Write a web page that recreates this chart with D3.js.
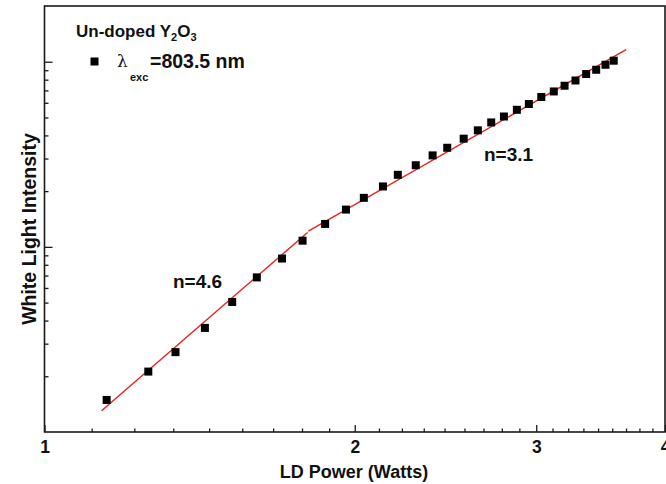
<!DOCTYPE html>
<html><head><meta charset="utf-8">
<script src="https://cdn.jsdelivr.net/npm/d3@7"></script>
<style>html,body{margin:0;padding:0;background:#fff;}svg{display:block;font-family:"Liberation Sans",Arial,sans-serif;}</style>
</head><body>
<svg id="c" width="666" height="484"></svg>
<script>
// Data
const ldPower = [1.149,1.261,1.340,1.431,1.521,1.607,1.700,1.780,1.872,1.961,2.041,2.130,2.202,2.292,2.380,2.459,2.551,2.633,2.713,2.791,2.873,2.951,3.034,3.120,3.196,3.275,3.354,3.430,3.502,3.567];
const intensity = [1.49,2.12,2.70,3.65,5.04,6.84,8.65,10.8,13.3,15.9,18.4,21.2,24.5,27.6,31.2,34.3,38.4,42.6,47.0,50.6,55.0,59.1,64.5,69.1,74.2,79.2,85.8,90.5,96.3,101.3];
// Fit lines (endpoints)
const fitLowX = [1.136, 1.800];
const fitLowY = [1.303, 11.95];
const fitHighX = [1.803, 3.667];
const fitHighY = [12.15, 116.1];
const xTickValues = [1,2,3,4];
const xTickLabels = ["1","2","3","4"];
const yMajorTicks = [10,100];

const svg = d3.select("#c");
const L = 44.5, R = 665, T = 6, B = 432;
const x = d3.scaleLog().domain([1,4]).range([L,R]);
const y = d3.scaleLog().domain([1,200]).range([B,T]);

// minor ticks
const xMinor = [];
for (let k=1;k<4;k++) for (let j=1;j<=8;j++) xMinor.push(k + j/9);
const yMinor = [];
[1,10].forEach(d=>{ for(let j=2;j<=9;j++) yMinor.push(d*j); });

const axisCol = "#1a1a1a";
// x axis
const gx = svg.append("g").attr("transform",`translate(0,${B})`)
  .call(d3.axisBottom(x).tickValues(xMinor).tickSize(-3.5).tickFormat(""));
const gxMaj = svg.append("g").attr("transform",`translate(0,${B})`)
  .call(d3.axisBottom(x).tickValues(xTickValues).tickSize(-7).tickFormat((d,i)=>xTickLabels[i]));
[gx,gxMaj].forEach(g=>{g.select(".domain").remove(); g.selectAll("line").attr("stroke",axisCol).attr("stroke-width",1.3);});
gxMaj.selectAll("text").attr("font-size",17.5).attr("font-weight","bold").attr("fill","#111").attr("dy",null).attr("y",21);

// y axis
const gy = svg.append("g").attr("transform",`translate(${L},0)`)
  .call(d3.axisLeft(y).tickValues(yMinor).tickSize(-4).tickFormat(""));
const gyMaj = svg.append("g").attr("transform",`translate(${L},0)`)
  .call(d3.axisLeft(y).tickValues(yMajorTicks).tickSize(-8).tickFormat(""));
[gy,gyMaj].forEach(g=>{g.select(".domain").remove(); g.selectAll("line").attr("stroke",axisCol).attr("stroke-width",1.3);});

// frame
svg.append("rect").attr("x",L).attr("y",T).attr("width",R-L).attr("height",B-T)
  .attr("fill","none").attr("stroke",axisCol).attr("stroke-width",1.6);

// fit lines
const line = d3.line().x(d=>x(d[0])).y(d=>y(d[1]));
svg.append("path").datum(fitLowX.map((v,i)=>[v,fitLowY[i]])).attr("d",line)
  .attr("stroke","#e8201a").attr("stroke-width",1.4).attr("fill","none");
svg.append("path").datum(fitHighX.map((v,i)=>[v,fitHighY[i]])).attr("d",line)
  .attr("stroke","#e8201a").attr("stroke-width",1.4).attr("fill","none");

// points
const s = 8;
svg.append("g").selectAll("rect").data(ldPower.map((v,i)=>[v,intensity[i]])).join("rect")
  .attr("x",d=>x(d[0])-s/2).attr("y",d=>y(d[1])-s/2).attr("width",s).attr("height",s).attr("fill","#000");

// legend / title
const t1 = svg.append("text").attr("x",76).attr("y",37).attr("font-size",17).attr("font-weight","bold").attr("fill","#111");
t1.append("tspan").text("Un-doped Y");
t1.append("tspan").text("2").attr("font-size",11).attr("dy",4);
t1.append("tspan").text("O").attr("dy",-4);
t1.append("tspan").text("3").attr("font-size",11).attr("dy",4);

svg.append("rect").attr("x",94.5-4).attr("y",61.5-4).attr("width",8).attr("height",8).attr("fill","#000");
svg.append("text").attr("x",117).attr("y",67).attr("font-size",17).attr("fill","#111")
  .attr("font-family","DejaVu Serif, serif").text("λ");
svg.append("text").attr("x",130).attr("y",81).attr("font-size",11).attr("font-weight","bold").attr("fill","#111").text("exc");
svg.append("text").attr("x",150).attr("y",67.5).attr("font-size",19.5).attr("font-weight","bold").attr("fill","#111").text("=803.5 nm");

svg.append("text").attr("x",173).attr("y",288).attr("font-size",19).attr("font-weight","bold").attr("fill","#111").text("n=4.6");
svg.append("text").attr("x",484).attr("y",161).attr("font-size",19).attr("font-weight","bold").attr("fill","#111").text("n=3.1");

// axis titles
svg.append("text").attr("x",354).attr("y",478).attr("text-anchor","middle").attr("font-size",18).attr("font-weight","bold").attr("fill","#111").text("LD Power (Watts)");
svg.append("text").attr("transform","translate(36,229) rotate(-90)").attr("text-anchor","middle").attr("font-size",19.5).attr("font-weight","bold").attr("fill","#111").text("White Light Intensity");
</script>
</body></html>
